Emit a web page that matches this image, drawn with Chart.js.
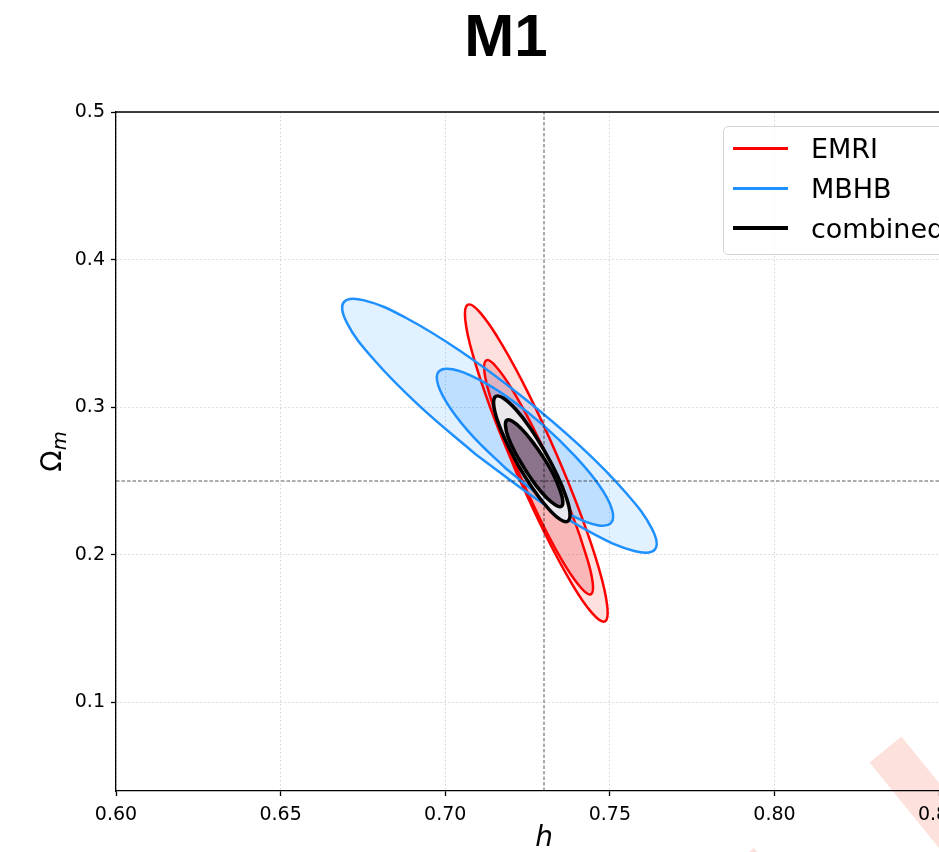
<!DOCTYPE html>
<html lang="en">
<head>
<meta charset="UTF-8">
<title>M1</title>
<script src="https://cdn.jsdelivr.net/npm/chart.js"></script>
<style>
  html, body { margin: 0; padding: 0; width: 939px; height: 852px; overflow: hidden; background: #fff; }
  #wrap { position: relative; width: 1012px; height: 870px; }
  #legend {
    position: absolute; left: 723px; top: 126px; width: 240px; box-sizing: border-box;
    padding: 1px 0 6px 9px; border: 1px solid #d5d5d5; border-radius: 5px;
    background: rgba(255,255,255,0.8); font-family: "DejaVu Sans", sans-serif; font-size: 27px; color: #000;
  }
  .row { height: 40px; display: flex; align-items: center; white-space: nowrap; }
  .swatch { width: 55px; margin-right: 23px; flex: none; }
</style>
</head>
<body>
<div id="wrap">
  <canvas id="chart"></canvas>
  <div id="legend"></div>
</div>

<script>
// contour vertices (h, Omega_m), walked once round each ellipse
const emriOuterH  = [0.7215, 0.7140, 0.7086, 0.7061, 0.7069, 0.7108, 0.7173, 0.7254, 0.7338, 0.7413, 0.7467, 0.7492, 0.7485, 0.7445, 0.7380, 0.7300, 0.7215];
const emriOuterOm = [0.2563, 0.2978, 0.3339, 0.3590, 0.3695, 0.3636, 0.3422, 0.3087, 0.2681, 0.2266, 0.1906, 0.1654, 0.1549, 0.1608, 0.1822, 0.2157, 0.2563];
const emriInnerH  = [0.7238, 0.7180, 0.7139, 0.7119, 0.7125, 0.7154, 0.7204, 0.7265, 0.7329, 0.7387, 0.7428, 0.7448, 0.7442, 0.7413, 0.7363, 0.7302, 0.7238];
const emriInnerOm = [0.2480, 0.2787, 0.3054, 0.3241, 0.3318, 0.3276, 0.3118, 0.2871, 0.2571, 0.2264, 0.1997, 0.1810, 0.1732, 0.1775, 0.1932, 0.2180, 0.2480];

const mbhbOuterH  = [0.7094, 0.6919, 0.6781, 0.6701, 0.6692, 0.6754, 0.6880, 0.7048, 0.7234, 0.7410, 0.7548, 0.7628, 0.7637, 0.7574, 0.7449, 0.7281, 0.7094];
const mbhbOuterOm = [0.2678, 0.3014, 0.3328, 0.3573, 0.3712, 0.3724, 0.3606, 0.3377, 0.3071, 0.2736, 0.2422, 0.2176, 0.2037, 0.2026, 0.2144, 0.2372, 0.2678];
const mbhbInnerH  = [0.7185, 0.7089, 0.7017, 0.6979, 0.6980, 0.7022, 0.7097, 0.7195, 0.7300, 0.7395, 0.7468, 0.7506, 0.7504, 0.7463, 0.7387, 0.7290, 0.7185];
const mbhbInnerOm = [0.2583, 0.2790, 0.2988, 0.3146, 0.3241, 0.3257, 0.3193, 0.3059, 0.2874, 0.2667, 0.2470, 0.2312, 0.2217, 0.2201, 0.2264, 0.2399, 0.2583];

const combOuterH  = [0.7223, 0.7185, 0.7158, 0.7147, 0.7154, 0.7177, 0.7214, 0.7258, 0.7302, 0.7341, 0.7368, 0.7379, 0.7372, 0.7349, 0.7312, 0.7268, 0.7223];
const combOuterOm = [0.2600, 0.2766, 0.2914, 0.3023, 0.3074, 0.3061, 0.2986, 0.2860, 0.2702, 0.2536, 0.2387, 0.2279, 0.2228, 0.2240, 0.2316, 0.2442, 0.2600];
const combInnerH  = [0.7242, 0.7212, 0.7191, 0.7183, 0.7187, 0.7204, 0.7231, 0.7264, 0.7298, 0.7328, 0.7348, 0.7357, 0.7353, 0.7336, 0.7308, 0.7275, 0.7242];
const combInnerOm = [0.2580, 0.2695, 0.2798, 0.2874, 0.2912, 0.2905, 0.2855, 0.2769, 0.2660, 0.2546, 0.2442, 0.2366, 0.2329, 0.2336, 0.2386, 0.2472, 0.2580];

// fiducial values and axes
const hTrue = 0.73;
const omTrue = 0.25;
const hRange = [0.60, 0.86];
const omRange = [0.04, 0.50];
const hTicks = [0.60, 0.65, 0.70, 0.75, 0.80, 0.85];
const omTicks = [0.1, 0.2, 0.3, 0.4, 0.5];

const seriesNames = ['EMRI', 'MBHB', 'combined'];
const seriesColors = ['#ff0000', '#1e90ff', '#000000'];
const seriesWidths = [2.5, 2.5, 3.5];

const pts = (xs, ys) => xs.map((x, i) => ({ x: x, y: ys[i] }));

// shaded region only (no outline)
function area(xs, ys, fill, order) {
  return {
    data: pts(xs, ys), showLine: true, tension: 0.4, fill: 'shape',
    backgroundColor: fill, borderWidth: 0, borderColor: 'rgba(0,0,0,0)',
    pointRadius: 0, order: order
  };
}

// outline only
function outline(xs, ys, idx, order) {
  return {
    label: seriesNames[idx], data: pts(xs, ys), showLine: true, tension: 0.4, fill: false,
    borderColor: seriesColors[idx], borderWidth: seriesWidths[idx],
    pointRadius: 0, order: order
  };
}

function refLine(data) {
  return {
    data: data, showLine: true, fill: false, pointRadius: 0,
    borderColor: 'rgba(0,0,0,0.65)', borderWidth: 1, borderDash: [3.5, 2], order: 0
  };
}

const tickFont = { family: 'DejaVu Sans', size: 19 };
const gridOpts = { color: '#d3d3d3', tickColor: '#000', tickWidth: 1.3, tickLength: 5, tickBorderDash: [] };
const borderOpts = { color: '#000', width: 1.3, dash: [1.5, 2.5] };

// faint stamp stroke in the lower right corner
const stamp = {
  id: 'stamp',
  beforeDraw(chart) {
    const ctx = chart.ctx;
    ctx.save();
    ctx.strokeStyle = '#fde1dc';
    ctx.lineWidth = 41;
    ctx.lineCap = 'butt';
    [[885.5, 749.5], [738, 861]].forEach(([x, y]) => {
      ctx.beginPath();
      ctx.moveTo(x, y);
      ctx.lineTo(x + 0.63 * 250, y + 0.777 * 250);
      ctx.stroke();
    });
    ctx.restore();
  }
};

// top and right spines
const frame = {
  id: 'frame',
  afterDraw(chart) {
    const a = chart.chartArea, ctx = chart.ctx;
    ctx.save();
    ctx.strokeStyle = '#000';
    ctx.lineWidth = 1.3;
    ctx.beginPath();
    ctx.moveTo(a.left, a.top);
    ctx.lineTo(a.right, a.top);
    ctx.lineTo(a.right, a.bottom);
    ctx.stroke();
    ctx.restore();
  }
};

// y label: upright Omega with italic subscript m
const omegaLabel = {
  id: 'omegaLabel',
  afterDraw(chart) {
    const a = chart.chartArea, ctx = chart.ctx;
    ctx.save();
    ctx.fillStyle = '#000';
    ctx.textBaseline = 'alphabetic';
    ctx.font = '28px "DejaVu Sans"';
    const wBig = ctx.measureText('\u03A9').width;
    ctx.font = 'italic 19.6px "DejaVu Sans"';
    const wSub = ctx.measureText('m').width;
    const cy = (a.top + a.bottom) / 2;
    ctx.translate(a.left - 55, cy + (wBig + wSub) / 2);
    ctx.rotate(-Math.PI / 2);
    ctx.font = '28px "DejaVu Sans"';
    ctx.fillText('\u03A9', 0, 0);
    ctx.font = 'italic 19.6px "DejaVu Sans"';
    ctx.fillText('m', wBig, 5);
    ctx.restore();
  }
};

// higher order is painted first: shading, then outlines, then the combined contours
new Chart(document.getElementById('chart'), {
  type: 'scatter',
  data: {
    datasets: [
      area(emriOuterH, emriOuterOm, 'rgba(245,40,30,0.14)', 14),
      area(emriInnerH, emriInnerOm, 'rgba(230,30,40,0.21)', 13),
      area(mbhbOuterH, mbhbOuterOm, 'rgba(30,144,255,0.13)', 12),
      area(mbhbInnerH, mbhbInnerOm, 'rgba(30,144,255,0.18)', 11),
      outline(emriOuterH, emriOuterOm, 0, 10),
      outline(emriInnerH, emriInnerOm, 0, 9),
      outline(mbhbOuterH, mbhbOuterOm, 1, 8),
      outline(mbhbInnerH, mbhbInnerOm, 1, 7),
      area(combOuterH, combOuterOm, 'rgba(238,236,238,0.95)', 6),
      outline(combOuterH, combOuterOm, 2, 5),
      area(combInnerH, combInnerOm, '#8b738b', 4),
      outline(combInnerH, combInnerOm, 2, 3),
      refLine([{ x: hTrue, y: omRange[0] }, { x: hTrue, y: omRange[1] }]),
      refLine([{ x: hRange[0], y: omTrue }, { x: hRange[1], y: omTrue }])
    ]
  },
  options: {
    responsive: true,
    maintainAspectRatio: false,
    animation: false,
    events: [],
    layout: { padding: 0 },
    plugins: {
      legend: { display: false },
      tooltip: { enabled: false },
      title: {
        display: true, text: 'M1', color: '#000',
        font: { family: 'Liberation Sans', size: 60, weight: 'bold', lineHeight: 1.2 },
        padding: { top: 3, bottom: 37 }
      }
    },
    scales: {
      x: {
        type: 'linear', min: hRange[0], max: hRange[1],
        afterBuildTicks: s => { s.ticks = hTicks.map(v => ({ value: v })); },
        afterFit: s => { s.height = 79; },
        ticks: { callback: v => v.toFixed(2), color: '#000', font: tickFont, padding: 8, maxRotation: 0, autoSkip: false },
        grid: gridOpts,
        border: borderOpts,
        title: {
          display: true, text: 'h', color: '#000',
          font: { family: 'DejaVu Sans', size: 28, style: 'italic' },
          padding: { top: 0, bottom: 14 }
        }
      },
      y: {
        type: 'linear', min: omRange[0], max: omRange[1],
        afterBuildTicks: s => { s.ticks = omTicks.map(v => ({ value: v })); },
        afterFit: s => { s.width = 116; },
        ticks: { callback: v => v.toFixed(1), color: '#000', font: tickFont, padding: 6, autoSkip: false },
        grid: gridOpts,
        border: borderOpts
      },
      yRight: {
        type: 'linear', position: 'right', min: omRange[0], max: omRange[1],
        afterFit: s => { s.width = 40; },
        ticks: { display: false },
        grid: { display: false },
        border: { display: false }
      }
    }
  },
  plugins: [stamp, frame, omegaLabel]
});

// legend box in the upper right of the axes
const legend = document.getElementById('legend');
seriesNames.forEach((name, i) => {
  const row = document.createElement('div');
  row.className = 'row';
  const sw = document.createElement('div');
  sw.className = 'swatch';
  const h = Math.round(seriesWidths[i]);
  sw.style.height = h + 'px';
  if (h % 2) sw.style.marginTop = '1px';
  sw.style.background = seriesColors[i];
  const txt = document.createElement('span');
  txt.textContent = name;
  row.appendChild(sw);
  row.appendChild(txt);
  legend.appendChild(row);
});
</script>
</body>
</html>
